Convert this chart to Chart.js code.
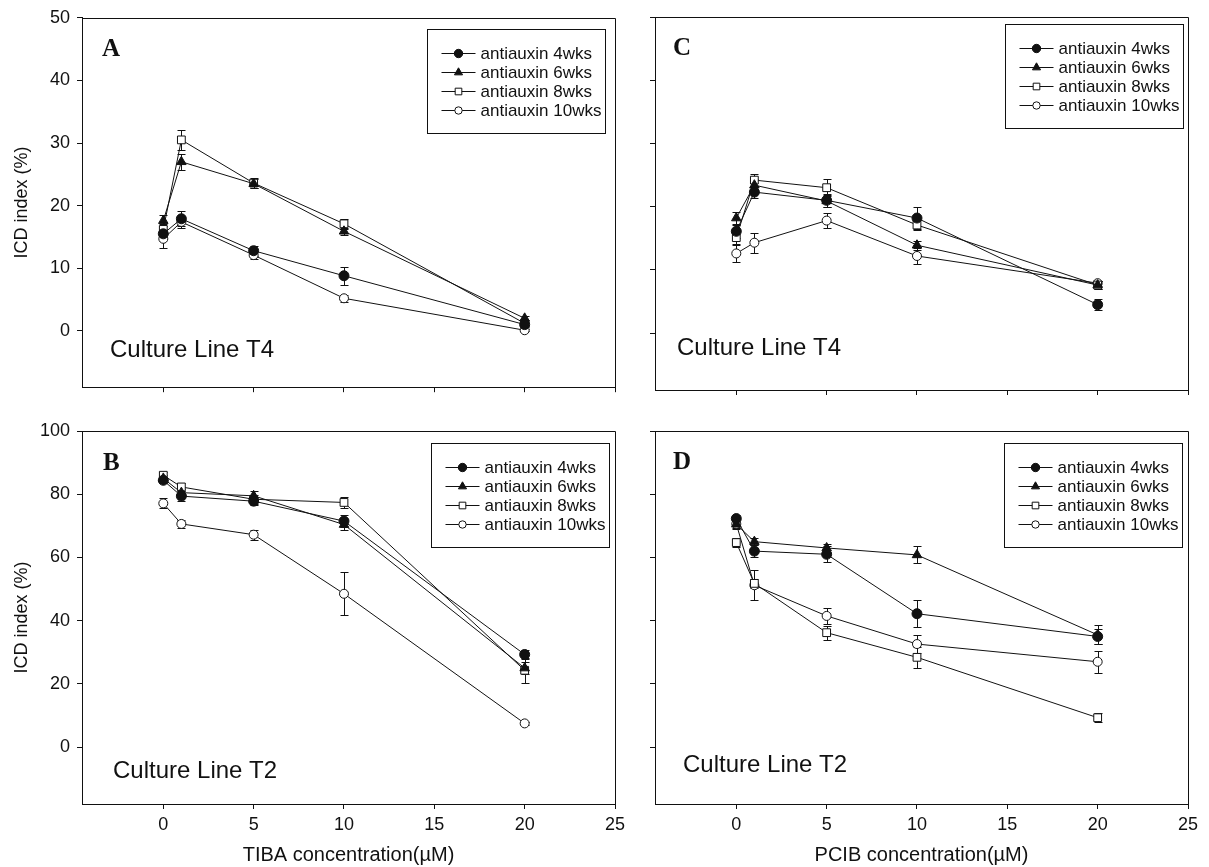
<!DOCTYPE html>
<html>
<head>
<meta charset="utf-8">
<script src="https://cdn.jsdelivr.net/npm/chart.js@4.4.0/dist/chart.umd.min.js"></script>
<style>
  html, body { margin: 0; padding: 0; background: #fff; }
  #figure { position: relative; width: 1209px; height: 867px; }
  #figure canvas { position: absolute; }
</style>
</head>
<body>
<div id="figure">
  <canvas id="panelA" width="640" height="405" style="left:0;top:0"></canvas>
  <canvas id="panelB" width="640" height="462" style="left:0;top:405px"></canvas>
  <canvas id="panelC" width="569" height="405" style="left:640px;top:0"></canvas>
  <canvas id="panelD" width="569" height="462" style="left:640px;top:405px"></canvas>
</div>
<script>
"use strict";

// Koncentrationer (µM) och serienamn
const concentrations = [0, 1, 5, 10, 20];
const seriesLabels = ["antiauxin 4wks", "antiauxin 6wks", "antiauxin 8wks", "antiauxin 10wks"];

// Tickvärden för axlarna
const xTickValues = [0, 5, 10, 15, 20, 25];
const yTicksT4 = [0, 10, 20, 30, 40, 50];
const yTicksT2 = [0, 20, 40, 60, 80, 100];

// A: TIBA, linje T4 - medelvärden (4, 6, 8, 10 veckor) och standardfel
const tibaT4 = [
    [15.5, 17.9, 12.8, 8.8, 1.0],
    [17.6, 27.0, 23.5, 15.9, 2.0],
    [16.2, 30.5, 23.6, 17.1, 1.2],
    [14.7, 17.4, 12.1, 5.2, 0.1]
];
const tibaT4Err = [
    [0.8, 1.2, 0.8, 1.4, 0.4],
    [0.9, 1.3, 0.7, 0.6, 0.4],
    [0.9, 1.6, 0.8, 0.8, 0.5],
    [1.4, 0.9, 0.7, 0.6, 0.2]
];

// B: TIBA, linje T2
const tibaT2 = [
    [84.4, 79.4, 77.8, 71.5, 29.3],
    [85.0, 80.5, 79.5, 70.4, 25.0],
    [86.0, 82.3, 78.4, 77.4, 24.3],
    [77.1, 70.6, 67.2, 48.5, 7.5]
];
const tibaT2Err = [
    [1.0, 1.5, 1.2, 2.0, 1.5],
    [1.0, 1.2, 1.5, 1.8, 2.0],
    [1.0, 1.2, 1.5, 1.8, 4.0],
    [1.6, 1.3, 1.6, 6.8, 0.5]
];

// C: PCIB, linje T4
const pcibT4 = [
    [16.1, 22.3, 21.0, 18.2, 4.5],
    [18.2, 23.4, 20.9, 13.9, 7.6],
    [15.1, 24.2, 23.0, 17.1, 7.6],
    [12.6, 14.3, 17.8, 12.2, 7.9]
];
const pcibT4Err = [
    [1.0, 1.0, 1.0, 1.8, 0.9],
    [1.0, 1.0, 1.0, 0.7, 0.6],
    [1.0, 1.0, 1.3, 0.8, 0.6],
    [1.4, 1.6, 1.2, 1.2, 0.4]
];

// D: PCIB, linje T2
const pcibT2 = [
    [72.3, 62.0, 61.0, 42.2, 35.0],
    [70.5, 65.0, 63.0, 60.8, 35.5],
    [64.7, 51.8, 36.2, 28.4, 9.3],
    [70.6, 51.2, 41.5, 32.6, 27.0]
];
const pcibT2Err = [
    [1.2, 1.9, 2.5, 4.2, 2.5],
    [1.2, 1.0, 1.4, 2.7, 3.0],
    [1.3, 1.5, 2.2, 3.4, 1.5],
    [1.5, 4.8, 2.5, 2.8, 3.5]
];

const ink = "#111";
const sans = "'Liberation Sans', Arial, sans-serif";

// Markörer per serie: fylld cirkel, fylld triangel, öppen kvadrat, öppen cirkel
const markers = [
    { style: "circle", radius: 5, fill: ink },
    { style: "triangle", radius: 5.5, fill: ink },
    { style: "rect", radius: 5.5, fill: "#fff" },
    { style: "circle", radius: 4.5, fill: "#fff" }
];

// Plugin som ritar felstaplar (medel ± SE) innan linjerna
const errorBars = {
    id: "errorBars",
    beforeDatasetsDraw(chart) {
        const { ctx, scales: { x, y } } = chart;
        ctx.save();
        ctx.strokeStyle = ink;
        ctx.lineWidth = 1;
        chart.data.datasets.forEach(ds => {
            ds.data.forEach((p, j) => {
                const e = ds.err[j];
                const px = Math.round(x.getPixelForValue(p.x)) + 0.5;
                const top = Math.round(y.getPixelForValue(p.y + e)) + 0.5;
                const bottom = Math.round(y.getPixelForValue(p.y - e)) + 0.5;
                ctx.beginPath();
                ctx.moveTo(px, top);
                ctx.lineTo(px, bottom);
                ctx.moveTo(px - 4, top);
                ctx.lineTo(px + 4, top);
                ctx.moveTo(px - 4, bottom);
                ctx.lineTo(px + 4, bottom);
                ctx.stroke();
            });
        });
        ctx.restore();
    }
};

// Plugin för ram, panelbokstav, odlingslinje och teckenförklaring
const panelDecor = {
    id: "panelDecor",
    afterDraw(chart, args, opts) {
        const { ctx, chartArea: a } = chart;
        ctx.save();

        // Ramens övre och högra kant
        ctx.strokeStyle = ink;
        ctx.lineWidth = 1;
        ctx.beginPath();
        ctx.moveTo(Math.round(a.left) + 0.5, Math.round(a.top) + 0.5);
        ctx.lineTo(Math.round(a.right) + 0.5, Math.round(a.top) + 0.5);
        ctx.lineTo(Math.round(a.right) + 0.5, Math.round(a.bottom) + 0.5);
        ctx.stroke();

        // Panelbokstav
        ctx.fillStyle = ink;
        ctx.textBaseline = "alphabetic";
        ctx.font = "bold 25px 'Liberation Serif', 'Times New Roman', serif";
        ctx.fillText(opts.letter, a.left + opts.letterX, a.top + opts.letterY);

        // Odlingslinje
        ctx.font = "24px " + sans;
        ctx.fillText(opts.line, a.left + opts.lineX, a.bottom - opts.lineY);

        // Teckenförklaring i ruta
        const bw = 178, bh = 104;
        const bx = Math.round(a.right - opts.legendRight - bw) + 0.5;
        const by = Math.round(a.top + opts.legendTop) + 0.5;
        ctx.strokeRect(bx, by, bw, bh);
        ctx.font = "17px " + sans;
        ctx.textBaseline = "middle";
        chart.data.datasets.forEach((ds, i) => {
            const ry = Math.round(by + 23 + i * 19.2) + 0.5;
            ctx.strokeStyle = ink;
            ctx.beginPath();
            ctx.moveTo(bx + 14, ry);
            ctx.lineTo(bx + 48, ry);
            ctx.stroke();
            ctx.fillStyle = ds.pointBackgroundColor;
            Chart.helpers.drawPoint(ctx, {
                pointStyle: ds.pointStyle,
                radius: ds.pointRadius - 0.8,
                rotation: 0,
                borderWidth: 1
            }, bx + 31, ry);
            ctx.fillStyle = ink;
            ctx.fillText(ds.label, bx + 53, ry + 1);
        });

        ctx.restore();
    }
};

// Skapar en panel med fyra serier
function buildPanel(id, means, errors, cfg) {
    const datasets = means.map((values, i) => ({
        label: seriesLabels[i],
        data: concentrations.map((c, j) => ({ x: c, y: values[j] })),
        err: errors[i],
        borderColor: ink,
        borderWidth: 1,
        tension: 0,
        fill: false,
        pointStyle: markers[i].style,
        pointRadius: markers[i].radius,
        pointBackgroundColor: markers[i].fill,
        pointBorderColor: ink,
        pointBorderWidth: 1
    }));

    new Chart(document.getElementById(id), {
        type: "line",
        data: { datasets },
        plugins: [errorBars, panelDecor],
        options: {
            responsive: false,
            animation: false,
            devicePixelRatio: 1,
            events: [],
            layout: {
                padding: { top: cfg.top, right: cfg.right, left: 0, bottom: 0 }
            },
            plugins: {
                legend: { display: false },
                tooltip: { enabled: false },
                panelDecor: cfg.decor
            },
            scales: {
                x: {
                    type: "linear",
                    min: -4.5,
                    max: 25,
                    afterBuildTicks: s => { s.ticks = xTickValues.map(v => ({ value: v })); },
                    afterFit: s => { s.height = cfg.xHeight; },
                    border: { color: ink, width: 1 },
                    grid: { drawOnChartArea: false, tickLength: 5, color: ink },
                    ticks: { display: !!cfg.xTitle, color: ink, padding: 5, font: { family: sans, size: 18 } },
                    title: {
                        display: !!cfg.xTitle,
                        text: cfg.xTitle || "",
                        color: ink,
                        font: { family: sans, size: 20 },
                        padding: { top: 2, bottom: 0 }
                    }
                },
                y: {
                    type: "linear",
                    min: cfg.yMin,
                    max: cfg.yMax,
                    afterBuildTicks: s => { s.ticks = cfg.yTicks.map(v => ({ value: v })); },
                    afterFit: s => { s.width = cfg.yWidth; },
                    border: { color: ink, width: 1 },
                    grid: { drawOnChartArea: false, tickLength: 5, color: ink },
                    ticks: { display: cfg.yLabels, color: ink, padding: 7, font: { family: sans, size: 18 } },
                    title: {
                        display: cfg.yLabels,
                        text: "ICD index (%)",
                        color: ink,
                        font: { family: sans, size: 18 },
                        padding: { top: 11, bottom: 0 }
                    }
                }
            }
        }
    });
}

// Övre raden: linje T4
buildPanel("panelA", tibaT4, tibaT4Err, {
    top: 17, right: 25, xHeight: 15, yWidth: 82, yLabels: true,
    yMin: -9, yMax: 50, yTicks: yTicksT4,
    decor: { letter: "A", letterX: 20, letterY: 38, line: "Culture Line T4", lineX: 28, lineY: 30, legendRight: 10, legendTop: 11 }
});
buildPanel("panelC", pcibT4, pcibT4Err, {
    top: 17, right: 21, xHeight: 15, yWidth: 15, yLabels: false,
    yMin: -9, yMax: 50, yTicks: yTicksT4,
    decor: { letter: "C", letterX: 18, letterY: 38, line: "Culture Line T4", lineX: 22, lineY: 35, legendRight: 5, legendTop: 7 }
});

// Nedre raden: linje T2
buildPanel("panelB", tibaT2, tibaT2Err, {
    top: 26, right: 25, xHeight: 63, yWidth: 82, yLabels: true,
    yMin: -18, yMax: 100, yTicks: yTicksT2, xTitle: "TIBA concentration(\u00b5M)",
    decor: { letter: "B", letterX: 21, letterY: 39, line: "Culture Line T2", lineX: 31, lineY: 26, legendRight: 6, legendTop: 12 }
});
buildPanel("panelD", pcibT2, pcibT2Err, {
    top: 26, right: 21, xHeight: 63, yWidth: 15, yLabels: false,
    yMin: -18, yMax: 100, yTicks: yTicksT2, xTitle: "PCIB concentration(\u00b5M)",
    decor: { letter: "D", letterX: 18, letterY: 38, line: "Culture Line T2", lineX: 28, lineY: 32, legendRight: 6, legendTop: 12 }
});
</script>
</body>
</html>
